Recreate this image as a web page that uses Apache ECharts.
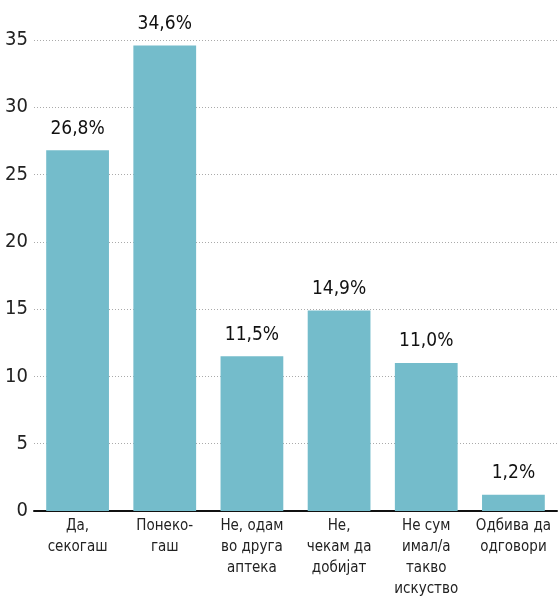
<!DOCTYPE html>
<html><head><meta charset="utf-8">
<script src="https://cdn.jsdelivr.net/npm/echarts@6/dist/echarts.min.js"></script>
<style>html,body{margin:0;padding:0;background:#fff}#c{width:559px;height:596px}</style>
</head><body><div id="c"></div>
<script>
const categories = ['Да,\nсекогаш', 'Понеко-\nгаш', 'Не, одам\nво друга\nаптека', 'Не,\nчекам да\nдобијат', 'Не сум\nимал/а\nтакво\nискуство', 'Одбива да\nодговори'];
const values = [26.8, 34.6, 11.5, 14.9, 11.0, 1.2];
const yTicks = [0, 5, 10, 15, 20, 25, 30, 35];
const FONT = '"DejaVu Sans Condensed",sans-serif';
const chart = echarts.init(document.getElementById('c'));
chart.setOption({
  animation: false,
  grid: {left: 34, right: 2, top: 40, bottom: 85, outerBoundsMode: 'none', containLabel: false},
  xAxis: {
    type: 'category', data: categories,
    axisLine: {lineStyle: {color: '#111', width: 2}},
    axisTick: {show: false},
    axisLabel: {color: '#222', fontFamily: FONT, fontSize: 15, lineHeight: 21, margin: 5, interval: 0}
  },
  yAxis: {
    type: 'value', min: yTicks[0], max: yTicks[yTicks.length - 1], interval: 5,
    axisLine: {show: false}, axisTick: {show: false},
    axisLabel: {color: '#222', fontFamily: FONT, fontSize: 20, margin: 6},
    splitLine: {lineStyle: {color: '#aaa', type: [1, 2], width: 1}}
  },
  series: [{
    type: 'bar', data: values, barCategoryGap: '28%',
    itemStyle: {color: '#74bccb'},
    label: {
      show: true, position: 'top', distance: 12,
      color: '#111', fontFamily: FONT, fontSize: 19,
      formatter: p => p.value.toFixed(1).replace('.', ',') + '%'
    }
  }]
});
</script></body></html>
